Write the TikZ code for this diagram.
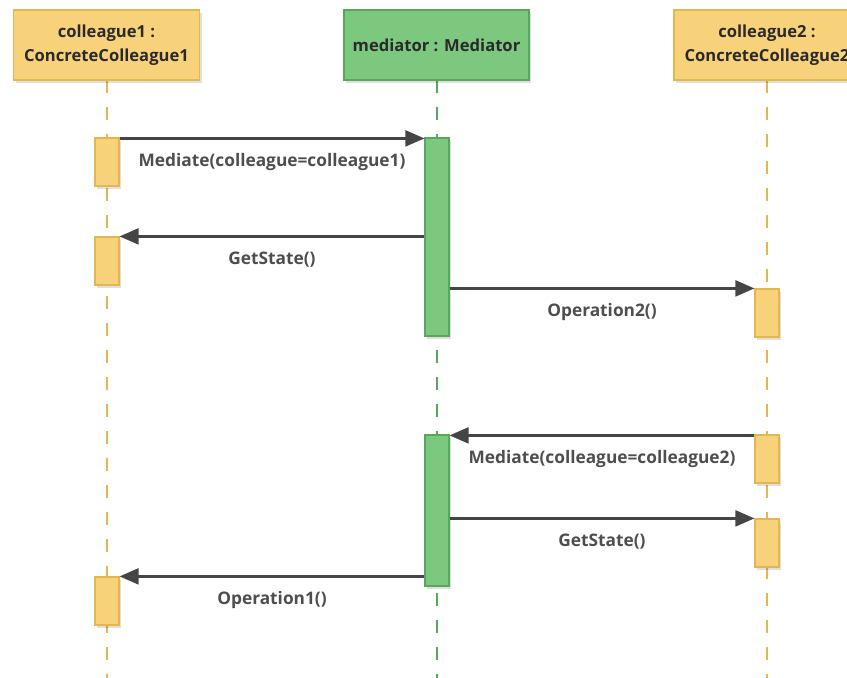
\documentclass[tikz,border=0pt]{standalone}
\usepackage{fontspec}
\setmainfont{Open Sans}
\usetikzlibrary{arrows.meta,shadows}

\definecolor{clfill}{HTML}{F8D27A}
\definecolor{clline}{HTML}{E3B64E}
\definecolor{mdfill}{HTML}{7CC87F}
\definecolor{mdline}{HTML}{58A85B}
\definecolor{msgcol}{HTML}{454545}
\definecolor{lblcol}{HTML}{4E4E4E}
\definecolor{hdrcol}{HTML}{2A2A2A}

\tikzset{
  boxshadow/.style={drop shadow={shadow xshift=2pt,shadow yshift=-3pt,opacity=0.12,fill=black}},
  objbox/.style={draw, line width=1.4pt, minimum height=70pt, inner sep=0pt,
    align=center, text=hdrcol, font=\bfseries\fontsize{16.6}{24}\selectfont, boxshadow},
  colleaguebox/.style={objbox, fill=clfill, draw=clline},
  mediatorbox/.style={objbox, fill=mdfill, draw=mdline},
  actbar/.style={draw, line width=1.2pt, minimum width=24pt, inner sep=0pt, boxshadow},
  colleagueact/.style={actbar, fill=clfill, draw=clline},
  mediatoract/.style={actbar, fill=mdfill, draw=mdline},
  lifeline/.style={line width=1.6pt, dash pattern=on 13pt off 14pt},
  msgarrow/.style={draw=msgcol, line width=2.2pt,
    -{Triangle[length=19pt,width=16pt,fill=msgcol]}},
  msglabel/.style={text=lblcol, font=\bfseries\fontsize{17.3}{19}\selectfont,
    midway, yshift=-23.5pt}
}

\begin{document}
\begin{tikzpicture}[x=1pt,y=-1pt]
  \useasboundingbox (0,0) rectangle (847,678);
  \clip (0,0) rectangle (847,678);

  % lifelines
  \coordinate (c1end) at (107,680);
  \coordinate (mdend) at (437,680);
  \coordinate (c2end) at (767,680);
  \draw[lifeline, clline] (107,80) -- (c1end);
  \draw[lifeline, mdline] (437,80) -- (mdend);
  \draw[lifeline, clline] (767,80) -- (c2end);

  % participant heads
  \node[colleaguebox, minimum width=186pt] (c1) at (106.5,45) {colleague1 :\\ConcreteColleague1};
  \node[mediatorbox, minimum width=185pt] (md) at (436.5,45) {mediator : Mediator};
  \node[colleaguebox, minimum width=186pt] (c2) at (767,45) {colleague2 :\\ConcreteColleague2};

  % activation bars
  \node[colleagueact, minimum height=48pt] (a1) at (107,162) {};
  \node[colleagueact, minimum height=48pt] (a2) at (107,261) {};
  \node[colleagueact, minimum height=48pt] (a3) at (107,601) {};
  \node[mediatoract, minimum height=198pt] (m1) at (437,237) {};
  \node[mediatoract, minimum height=151pt] (m2) at (437,510.5) {};
  \node[colleagueact, minimum height=48pt] (b1) at (767,313) {};
  \node[colleagueact, minimum height=48pt] (b2) at (767,459) {};
  \node[colleagueact, minimum height=48pt] (b3) at (767,543) {};

  % messages
  \draw[msgarrow] ([yshift=-1pt]a1.north east) -- ([yshift=-1pt]m1.north west)
    node[msglabel] {Mediate(colleague=colleague1)};
  \draw[msgarrow] (m1.west |- a2.north) -- (a2.north east)
    node[msglabel] {GetState()};
  \draw[msgarrow] (m1.east |- b1.north) -- (b1.north west)
    node[msglabel] {Operation2()};
  \draw[msgarrow] ([yshift=-1pt]b2.north west) -- ([yshift=-1pt]m2.north east)
    node[msglabel] {Mediate(colleague=colleague2)};
  \draw[msgarrow] (m2.east |- b3.north) -- (b3.north west)
    node[msglabel] {GetState()};
  \draw[msgarrow] (m2.west |- a3.north) -- (a3.north east)
    node[msglabel] {Operation1()};
\end{tikzpicture}
\end{document}
